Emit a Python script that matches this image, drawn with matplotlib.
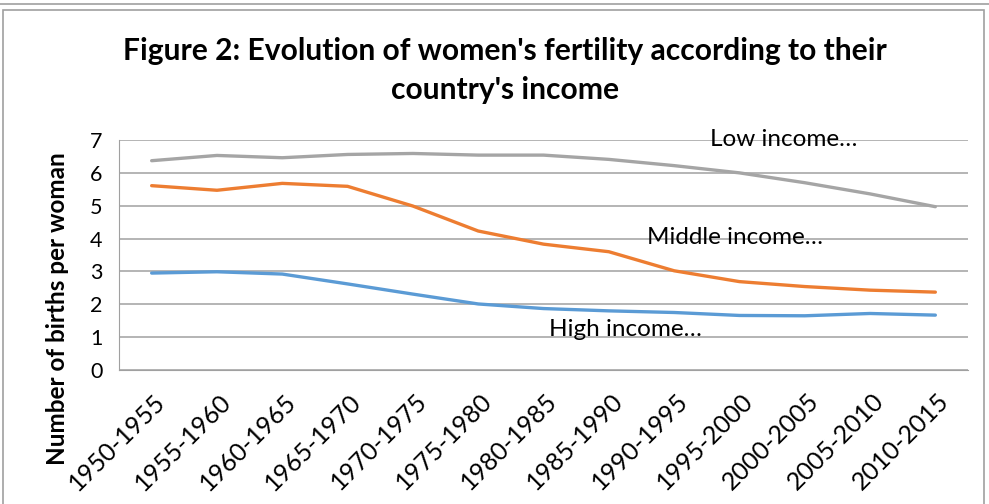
import matplotlib.pyplot as plt
import matplotlib.transforms as mtransforms
from matplotlib.patches import Rectangle
from matplotlib.lines import Line2D

# periods on the x axis
periods = ["1950-1955", "1955-1960", "1960-1965", "1965-1970", "1970-1975",
           "1975-1980", "1980-1985", "1985-1990", "1990-1995", "1995-2000",
           "2000-2005", "2005-2010", "2010-2015"]

# births per woman
low_income = [6.37, 6.53, 6.46, 6.56, 6.59, 6.54, 6.54, 6.41, 6.22, 6.00, 5.70, 5.36, 4.97]
middle_income = [5.61, 5.47, 5.68, 5.59, 4.99, 4.23, 3.83, 3.60, 3.02, 2.69, 2.54, 2.43, 2.37]
high_income = [2.95, 2.99, 2.92, 2.62, 2.31, 2.01, 1.87, 1.80, 1.75, 1.66, 1.65, 1.72, 1.67]

plt.rcParams["font.family"] = ["Lato", "DejaVu Sans"]

W, H = 989, 504
fig = plt.figure(figsize=(W / 100, H / 100), dpi=100)

# outer frames like the source document
fig.add_artist(Line2D([0, 1], [1 - 4 / H, 1 - 4 / H], color="#a0a0a0", lw=1.2,
                      transform=fig.transFigure))
fig.add_artist(Rectangle((3 / W, -0.05), (984 - 3) / W, 1.05 - 10 / H,
                         transform=fig.transFigure, fill=False,
                         edgecolor="#a0a0a0", lw=1.2))

ax = fig.add_axes([119 / W, 1 - 370 / H, (968 - 119) / W, (370 - 140) / H])
x = list(range(len(periods)))

ax.plot(x, low_income, color="#a5a5a5", lw=2.4, solid_capstyle="round")
ax.plot(x, middle_income, color="#ed7d31", lw=2.4, solid_capstyle="round")
ax.plot(x, high_income, color="#5b9bd5", lw=2.4, solid_capstyle="round")

ax.text(9.68, 7.0, "Low income…", ha="center", va="center", fontsize=17.5)
ax.text(8.93, 4.02, "Middle income…", ha="center", va="center", fontsize=17.5)
ax.text(7.25, 1.22, "High income…", ha="center", va="center", fontsize=17.5)

ax.set_xlim(-0.5, len(periods) - 0.5)
ax.set_ylim(0, 7)
ax.set_yticks(range(8))
ax.set_xticks(x)
ax.set_xticklabels(periods, rotation=45, ha="right", rotation_mode="anchor",
                   fontsize=18)
ax.tick_params(axis="both", length=0)
ax.tick_params(axis="y", labelsize=15.5, pad=12)
ax.tick_params(axis="x", pad=14)
shift = mtransforms.ScaledTranslation(2 / 100, 0, fig.dpi_scale_trans)
for lab in ax.get_xticklabels():
    lab.set_transform(lab.get_transform() + shift)
ax.grid(axis="y", color="#a0a0a0", lw=1.1)
ax.set_axisbelow(True)
for s in ["top", "right"]:
    ax.spines[s].set_visible(False)
ax.spines["left"].set_color("#a0a0a0")
ax.spines["bottom"].set_color("#a0a0a0")

fig.text(58 / W, 1 - 309 / H, "Number of births per woman", rotation=90,
         ha="center", va="center", fontsize=17.5, fontweight="bold")

fig.text(505 / W, 1 - 51 / H, "Figure 2: Evolution of women's fertility according to their",
         ha="center", va="center", fontsize=21.6, fontweight="bold")
fig.text(505 / W, 1 - 90 / H, "country's income",
         ha="center", va="center", fontsize=21.6, fontweight="bold")

fig.savefig("out.png", dpi=100)
